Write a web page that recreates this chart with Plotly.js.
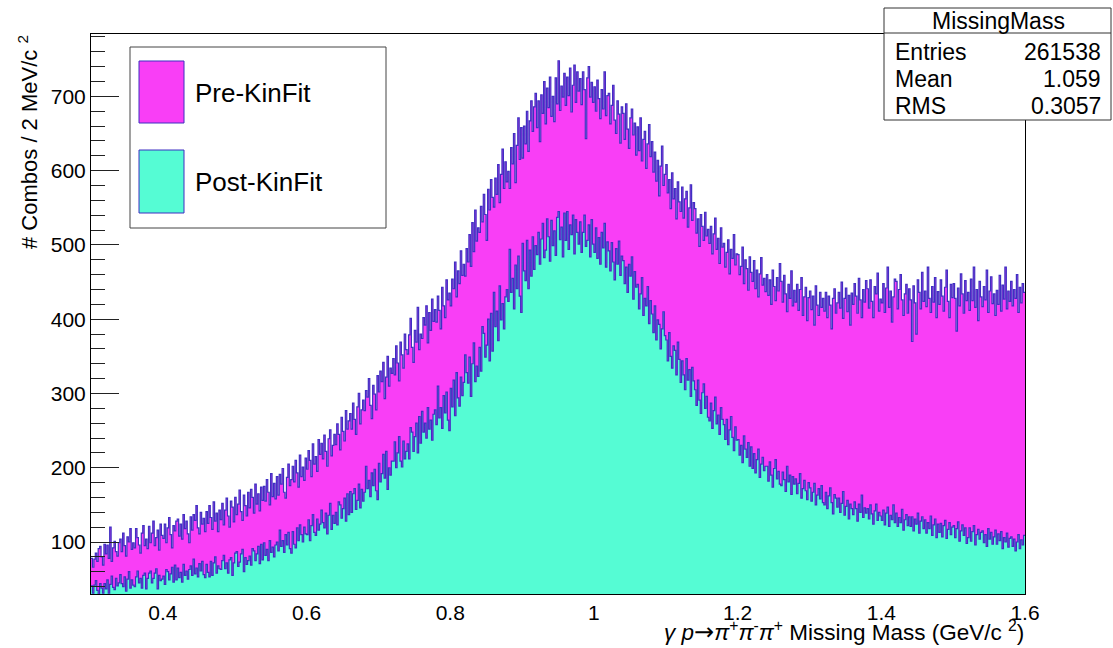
<!DOCTYPE html>
<html>
<head>
<meta charset="utf-8">
<script src="https://cdn.plot.ly/plotly-3.0.1.min.js"></script>
<style>html,body{margin:0;padding:0;background:#fff;}#chart{width:1113px;height:648px;}</style>
</head>
<body>
<div id="chart"></div>
<script>
// Histogram binning (GeV/c^2)
const binLow = 0.3;
const binWidth = 0.002;

// Pre-KinFit counts per 2 MeV bin (0.300 - 1.600)
const preKinFit = [
78,66,77,85,74,91,94,80,69,97,
84,96,78,120,74,92,101,87,81,99,
104,87,112,95,81,107,100,118,90,99,
92,118,106,96,85,112,122,95,104,91,
121,99,112,128,95,106,116,89,124,109,
105,124,99,119,133,110,92,122,115,128,
131,108,124,104,137,118,128,111,99,134,
116,137,129,149,119,111,140,124,132,114,
141,125,149,133,117,154,128,139,114,143,
130,152,123,143,159,135,120,155,147,127,
160,137,151,170,141,129,163,149,135,167,
146,171,160,139,178,151,165,142,174,156,
175,155,184,167,150,192,161,179,158,188,
163,191,178,199,167,159,187,205,176,184,
202,181,210,193,174,217,188,201,183,213,
198,223,210,188,232,205,215,195,238,218,
233,212,244,222,202,239,251,216,230,245,
231,259,245,224,268,249,236,277,252,263,
273,252,287,265,245,282,300,259,278,291,
277,304,295,320,284,266,311,299,278,324,
302,330,316,342,293,322,350,310,334,327,
347,325,364,341,317,369,352,334,380,359,
353,379,401,362,342,385,369,416,359,380,
374,402,392,418,368,409,385,427,397,413,
396,431,412,387,443,418,402,453,426,435,
418,454,441,477,430,465,448,492,459,474,
458,495,477,514,471,530,491,547,505,523,
517,552,531,568,541,506,575,547,588,564,
551,590,568,608,557,595,629,576,612,585,
599,576,631,609,650,584,634,671,615,658,
617,660,636,680,626,667,694,653,686,704,
658,694,639,702,677,720,663,711,685,726,
673,700,666,725,690,748,681,714,699,731,
688,726,701,738,679,715,742,692,733,707,
724,689,733,709,643,725,740,699,719,692,
713,680,722,697,670,709,683,733,674,701,
704,663,688,715,668,650,694,676,637,686,
677,642,690,656,630,671,683,648,664,621,
659,627,671,613,642,653,603,636,662,619,
639,598,625,586,614,566,606,633,580,595,
608,570,588,549,597,562,576,535,585,558,
545,578,536,562,572,524,550,581,533,557,
549,516,535,498,541,525,506,544,512,521,
502,525,488,515,536,494,509,475,523,497,
502,470,490,507,461,494,482,514,473,488,
487,460,471,497,448,480,468,439,484,463,
451,479,441,466,430,461,483,446,455,437,
460,432,453,420,466,444,425,456,438,475,
451,423,459,434,410,447,428,465,418,439,
423,447,412,440,456,405,430,443,398,429,
438,413,431,392,445,419,405,436,416,428,
411,436,402,431,419,387,428,441,408,422,
436,415,450,401,428,442,410,432,392,435,
420,448,431,408,455,426,402,440,423,452,
441,415,453,424,402,444,434,462,411,427,
422,448,409,442,470,416,438,396,430,454,
451,414,440,460,426,405,434,447,408,441,
426,370,445,422,380,453,436,414,463,424,
438,417,470,428,409,444,423,456,402,437,
420,453,431,411,443,466,424,402,447,429,
448,428,384,442,418,461,434,408,452,425,
436,412,454,425,470,416,440,398,451,430,
417,444,426,466,409,438,457,421,434,405,
439,420,459,411,446,427,470,414,438,424,
451,418,440,428,460,409,443,422,448,436
];

// Post-KinFit counts per 2 MeV bin (0.300 - 1.600)
const postKinFit = [
41,31,42,48,35,28,44,38,31,44,
37,49,31,43,54,39,36,51,41,45,
56,44,40,53,34,50,60,38,49,42,
40,53,61,45,51,38,55,58,37,51,
58,61,45,51,58,64,37,55,48,50,
54,43,63,60,49,57,66,46,69,49,
65,52,59,46,70,55,61,50,63,68,
55,77,57,65,53,71,61,74,56,52,
70,59,53,74,55,72,80,58,68,64,
63,75,82,64,72,58,76,79,55,72,
85,87,67,73,84,90,60,79,70,75,
81,69,91,88,75,84,94,71,97,76,
99,82,90,75,102,86,93,80,96,100,
88,116,94,102,86,110,96,113,91,85,
114,97,92,119,102,123,110,100,120,111,
110,130,102,122,137,113,109,131,116,124,
143,126,119,139,111,136,152,117,136,125,
140,123,154,150,132,145,159,128,165,137,
168,140,165,172,144,156,178,146,171,155,
167,202,172,183,161,193,176,198,169,157,
206,181,192,218,186,222,171,200,190,209,
209,235,200,220,242,209,201,236,212,222,
232,212,254,248,222,242,260,220,269,233,
276,248,260,240,281,252,264,237,272,278,
258,310,267,281,253,297,274,302,264,250,
307,282,318,270,328,294,283,322,297,315,
352,328,314,349,296,340,368,316,337,323,
362,330,390,381,349,365,400,344,408,357,
436,390,411,371,445,399,421,387,430,440,
424,494,436,455,414,473,441,485,431,409,
502,465,452,506,441,493,458,511,467,499,
487,517,474,508,529,483,493,535,511,478,
533,499,519,486,537,545,507,524,484,543,
506,545,494,527,514,540,488,534,517,501,
531,490,517,540,498,506,527,484,534,501,
490,523,482,510,474,517,496,529,470,504,
492,465,503,477,453,495,474,505,459,485,
479,448,470,436,474,458,484,427,464,443,
447,414,434,456,405,428,418,444,394,425,
407,382,418,372,399,393,360,387,410,378,
372,344,382,350,334,364,358,325,369,346,
315,344,325,305,347,318,332,296,335,317,
305,284,318,291,273,301,313,280,296,268,
263,287,253,277,295,259,271,245,281,265,
258,238,265,231,251,269,241,223,255,237,
238,217,230,207,243,225,214,234,202,228,
199,219,193,211,225,187,205,214,196,202,
202,182,208,190,174,199,211,185,195,178,
176,194,184,168,202,181,190,164,188,178,
185,165,179,192,159,172,183,169,157,180,
173,155,167,179,150,163,172,158,176,153,
150,167,145,162,173,153,138,164,159,147,
159,140,152,168,136,148,156,131,151,145,
137,154,145,128,151,140,163,133,146,139,
145,131,150,138,124,142,151,129,140,135,
129,143,123,139,147,121,136,130,150,126,
139,121,133,126,144,116,130,137,122,134,
121,134,115,131,124,139,112,128,134,118,
130,112,126,118,135,109,123,131,106,124,
113,125,107,122,129,105,117,126,110,120,
122,106,118,127,101,115,123,109,119,98,
106,119,101,114,122,96,110,117,104,113,
115,99,110,94,118,104,113,97,107,116,
97,111,102,114,91,106,100,112,93,105,
107,94,104,88,100,110,91,103,96,109
];

// Legend and stats box text
const seriesNames = ["Pre-KinFit", "Post-KinFit"];
const statsTitle = "MissingMass";
const statsLabels = ["Entries", "Mean", "RMS"];
const statsValues = ["261538", "1.059", "0.3057"];

const xTickVals = [0.4, 0.6, 0.8, 1.0, 1.2, 1.4, 1.6];
const xTickText = ["0.4", "0.6", "0.8", "1", "1.2", "1.4", "1.6"];

// Build step outlines (bin edges) from the counts
function stepTrace(counts, fillColor, name) {
  const xs = [], ys = [];
  for (let i = 0; i < counts.length; i++) {
    xs.push(binLow + i * binWidth);
    ys.push(counts[i]);
  }
  xs.push(binLow + counts.length * binWidth);
  ys.push(counts[counts.length - 1]);
  return {
    type: 'scatter', mode: 'lines', name: name,
    x: xs, y: ys,
    line: {shape: 'hv', color: '#3f2fc2', width: 1.2},
    fill: 'tozeroy', fillcolor: fillColor,
    hoverinfo: 'skip'
  };
}

const PINK = '#f93ef6';
const CYAN = '#55fcd4';
const LINEBLUE = '#3f2fc2';

const data = [
  stepTrace(preKinFit, PINK, seriesNames[0]),
  stepTrace(postKinFit, CYAN, seriesNames[1])
];

// pixel -> paper helpers (plot area 91..1025 x 34..594)
const L = 91, R = 1025, T = 34, B = 594;
const X = px => (px - L) / (R - L);
const Y = py => (B - py) / (B - T);

const FONT = 'Liberation Sans, Arial, Helvetica, sans-serif';

const shapes = [
  // legend box
  {type:'rect', xref:'paper', yref:'paper', x0:X(130), x1:X(386), y0:Y(228), y1:Y(47),
   line:{color:'#444', width:1}, fillcolor:'#fff', layer:'above'},
  {type:'rect', xref:'paper', yref:'paper', x0:X(139), x1:X(184), y0:Y(123), y1:Y(61),
   line:{color:LINEBLUE, width:1}, fillcolor:PINK, layer:'above'},
  {type:'rect', xref:'paper', yref:'paper', x0:X(139), x1:X(184), y0:Y(213), y1:Y(150),
   line:{color:LINEBLUE, width:1}, fillcolor:CYAN, layer:'above'},
  // stats box
  {type:'rect', xref:'paper', yref:'paper', x0:X(884), x1:X(1111), y0:Y(120), y1:Y(8),
   line:{color:'#333', width:1}, fillcolor:'#fff', layer:'above'},
  {type:'line', xref:'paper', yref:'paper', x0:X(884), x1:X(1111), y0:Y(33), y1:Y(33),
   line:{color:'#333', width:1}, layer:'above'}
];

const annotations = [
  {xref:'paper', yref:'paper', x:X(193), y:Y(93), text:seriesNames[0], showarrow:false,
   xanchor:'left', yanchor:'middle', font:{family:FONT, size:26, color:'#000'}},
  {xref:'paper', yref:'paper', x:X(193), y:Y(182), text:seriesNames[1], showarrow:false,
   xanchor:'left', yanchor:'middle', font:{family:FONT, size:26, color:'#000'}},
  {xref:'paper', yref:'paper', x:X(998), y:Y(21), text:statsTitle, showarrow:false,
   xanchor:'center', yanchor:'middle', font:{family:FONT, size:23, color:'#000'}},
  // axis titles (ROOT style, aligned at the axis end)
  {xref:'paper', yref:'paper', x:X(28), y:Y(33), text:'# Combos / 2 MeV/c <sup>2</sup>',
   textangle:-90, showarrow:false, xanchor:'center', yanchor:'top',
   font:{family:FONT, size:22, color:'#000'}},
  {xref:'paper', yref:'paper', x:X(1025), y:Y(647), borderpad:0,
   text:'<i>γ p</i><span style="font-family:DejaVu Sans;font-size:24px">→</span><i>π</i><sup>+</sup><i>π</i><sup>-</sup><i>π</i><sup>+</sup> Missing Mass (GeV/c <sup>2</sup>)',
   showarrow:false, xanchor:'right', yanchor:'bottom',
   font:{family:FONT, size:22.5, color:'#000'}}
];
statsLabels.forEach((lab, i) => {
  const py = 52 + i * 27;
  annotations.push({xref:'paper', yref:'paper', x:X(893), y:Y(py), text:lab, showarrow:false,
    xanchor:'left', yanchor:'middle', font:{family:FONT, size:23, color:'#000'}});
  annotations.push({xref:'paper', yref:'paper', x:X(1103), y:Y(py), text:statsValues[i], showarrow:false,
    xanchor:'right', yanchor:'middle', font:{family:FONT, size:23, color:'#000'}});
});

const layout = {
  width: 1113, height: 648,
  margin: {l: L, r: 1113 - R, t: T, b: 648 - B, pad: 0},
  paper_bgcolor: '#fff', plot_bgcolor: '#fff',
  showlegend: false,
  font: {family: FONT, size: 21, color: '#000'},
  xaxis: {
    range: [binLow, binLow + preKinFit.length * binWidth],
    tickmode: 'array', tickvals: xTickVals, ticktext: xTickText,
    ticks: '', showgrid: false, zeroline: false,
    showline: true, mirror: true, linecolor: '#000', linewidth: 1,
    tickfont: {family: FONT, size: 21, color: '#000'}
  },
  yaxis: {
    range: [30, 784], tick0: 0, dtick: 100,
    ticks: 'inside', ticklen: 28, tickwidth: 1, tickcolor: '#222',
    minor: {dtick: 20, ticks: 'inside', ticklen: 14, tickwidth: 1, tickcolor: '#222'},
    showgrid: false, zeroline: false,
    showline: true, mirror: true, linecolor: '#000', linewidth: 1,
    tickfont: {family: FONT, size: 21, color: '#000'}
  },
  shapes: shapes,
  annotations: annotations
};

Plotly.newPlot('chart', data, layout, {displayModeBar: false, staticPlot: true});
</script>
</body>
</html>
